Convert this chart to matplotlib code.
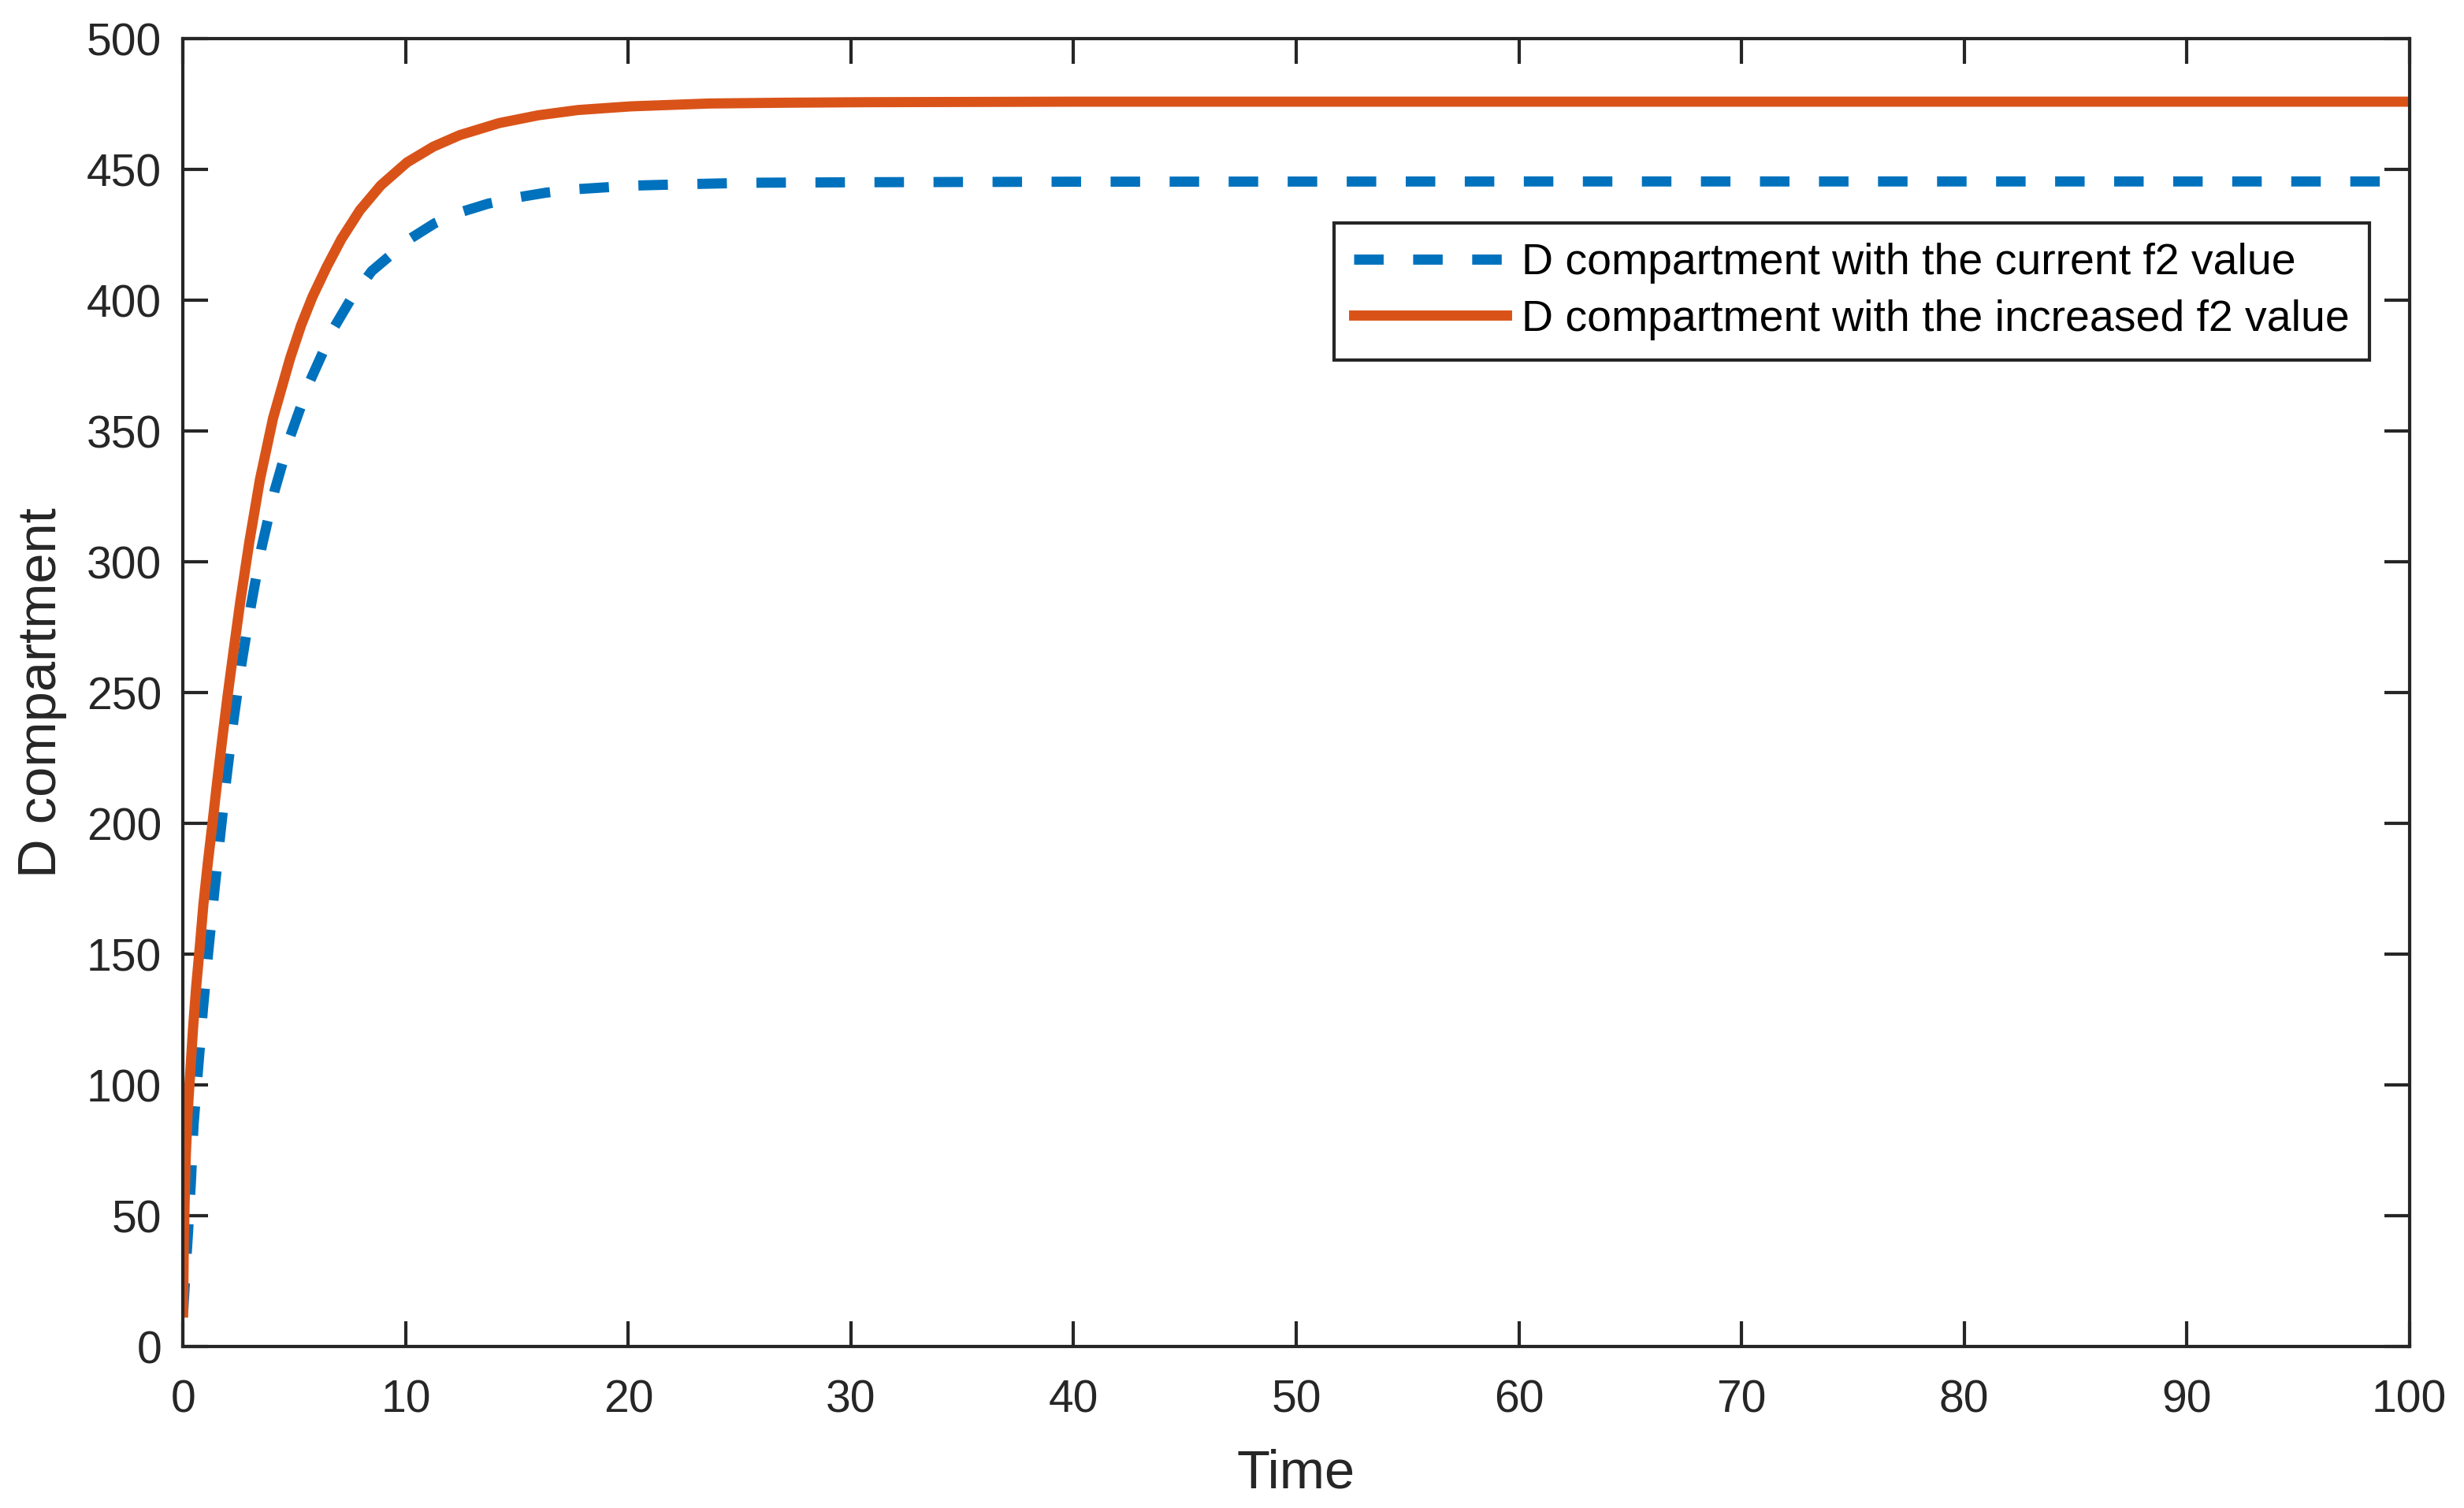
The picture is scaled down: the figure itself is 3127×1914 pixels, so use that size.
import matplotlib
matplotlib.use('Agg')
import matplotlib.pyplot as plt

plt.rcParams['font.family'] = ['Liberation Sans', 'DejaVu Sans']

# values
t_current = [0, 0.12, 0.23, 0.35, 0.47, 0.68, 0.89, 1.13, 1.39, 1.66, 1.94, 2.27,
             2.62, 3.04, 3.51, 4.1, 4.81, 5.69, 6.77, 7.5, 8.47, 10.18, 11.3, 12.48,
             13.7, 15.02, 16.3, 17.61, 20.2, 22.86, 25.5, 30.7, 40, 60, 80, 100]
d_current = [13, 30, 45, 63, 85, 107, 129, 151, 173, 195, 217, 240,
             261, 283, 305, 327, 348, 369, 389.5, 400, 411.2, 423.5, 429.5, 433.8,
             437, 439.4, 441.2, 442.5, 443.9, 444.5, 445, 445.2, 445.4, 445.5, 445.5, 445.5]

t_increased = [0, 0.03, 0.07, 0.12, 0.2, 0.32, 0.44, 0.58, 0.75, 0.91, 1.11, 1.33,
               1.53, 1.74, 2.0, 2.25, 2.57, 2.98, 3.45, 4.04, 4.81, 5.3, 5.81, 6.46,
               7.11, 7.94, 8.88, 10.06, 11.24, 12.42, 14.19, 15.96, 17.73, 20.09,
               23.63, 27, 30.7, 40, 60, 80, 100]
d_increased = [13, 40, 56, 73, 89, 105, 121, 137, 153, 169, 185, 201,
               216, 231, 249, 265, 285, 308, 331.5, 355, 378, 390.5, 401.4, 413,
               423.5, 434.5, 444, 452.8, 458.8, 463.2, 467.8, 470.8, 472.8, 474.2,
               475.3, 475.6, 475.8, 476, 476, 476, 476]

labels = ['D compartment with the current f2 value',
          'D compartment with the increased f2 value']
xticks = list(range(0, 101, 10))
yticks = list(range(0, 501, 50))

axcol = '#262626'
blue = '#0072BD'
orange = '#D95319'

fig = plt.figure(figsize=(3128/300, 1914/300), dpi=300)
ax = fig.add_axes([0.0743, 0.1071, 0.9032, 0.8671])

ax.plot(t_current, d_current, color=blue, lw=3.1, linestyle=(0, (2.9, 2.9)),
        dash_capstyle='butt', label=labels[0])
ax.plot(t_increased, d_increased, color=orange, lw=3.1, label=labels[1])

ax.set_xlim(0, 100)
ax.set_ylim(0, 500)
ax.set_xticks(xticks)
ax.set_yticks(yticks)
ax.tick_params(direction='in', length=7.7, width=1.0, color=axcol,
               labelcolor=axcol, labelsize=13.7, top=True, right=True)
ax.tick_params(axis='x', pad=10)
ax.tick_params(axis='y', pad=6.5)
for s in ax.spines.values():
    s.set_linewidth(1.0)
    s.set_color(axcol)

ax.set_xlabel('Time', fontsize=16.5, color=axcol, labelpad=8)
ax.set_ylabel('D compartment', fontsize=16.5, color=axcol, labelpad=6)

leg = ax.legend(loc='upper right', bbox_to_anchor=(0.982, 0.859), borderaxespad=0,
                fontsize=13.3, fancybox=False, edgecolor=axcol, framealpha=1,
                handlelength=3.5, handletextpad=0.35, borderpad=0.45,
                labelspacing=0.35)
leg.get_frame().set_linewidth(1.0)

fig.savefig('out.png', dpi=300)
